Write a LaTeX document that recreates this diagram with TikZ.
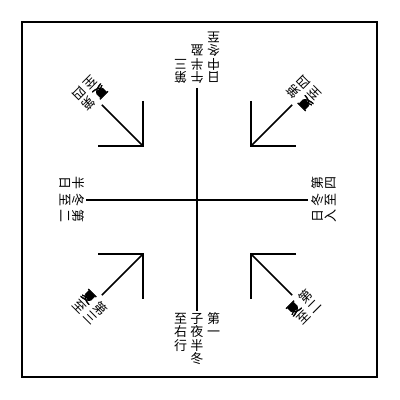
\documentclass[tikz,border=0pt]{standalone}
\usepackage{fontspec}
\newfontfamily\cjk{Noto Sans CJK SC}
\newfontfamily\cjkheavy[FakeBold=3]{Noto Sans CJK SC}
\newcommand\vcol[1]{\parbox[t]{13pt}{\centering #1}}
\newcommand\colgap{\hspace{3.5pt}}

\begin{document}
\begin{tikzpicture}[
                    x=1pt, y=1pt,
                    rule/.style={line width=1.6pt},
                    vtext/.style={inner sep=0pt, anchor=north, font=\cjk\fontsize{13}{13.6}\selectfont}
                    ]

    \useasboundingbox[fill=white] (0,0) rectangle (400,400);
    \draw[line width=2pt] (22,23) rectangle (377,378);

    % the four words round the cross
    \node[vtext] (bottomtext) at (197,88) {\vcol{至\\右\\行}\colgap\vcol{子\\夜\\半\\冬}\colgap\vcol{第\\一}};
    \node[vtext, rotate=180] (toptext) at (197,316) {\vcol{日\\中\\冬\\至}\colgap\vcol{午\\半\\盈}\colgap\vcol{第\\三}};
    \node[vtext, rotate=-90] (lefttext) at (85,200) {\vcol{半\\日}\colgap\vcol{冬\\至}\colgap\vcol{第\\二}};
    \node[vtext, rotate=90] (righttext) at (311,200) {\vcol{日\\入}\colgap\vcol{冬\\至}\colgap\vcol{第\\四}};

    \draw[rule, shorten <=4pt, shorten >=1pt] (toptext.north) -- (bottomtext.north);
    \draw[rule, shorten <=1pt, shorten >=3pt] (lefttext.north) -- (righttext.north);

    % corners
    \coordinate (tlv) at (143,254);
    \coordinate (trv) at (251,254);
    \coordinate (blv) at (143,146);
    \coordinate (brv) at (251,146);

    \node[vtext, rotate=-135] (tltext) at (99,298) {\vcol{{\cjkheavy 夏}\\至}\colgap\vcol{第\\四}};
    \node[vtext, rotate=135] (trtext) at (295,298) {\vcol{{\cjkheavy 夏}\\至}\colgap\vcol{第\\四}};
    \node[vtext, rotate=-45] (bltext) at (99,102) {\vcol{{\cjkheavy 夏}\\至}\colgap\vcol{第\\三}};
    \node[vtext, rotate=45] (brtext) at (295,102) {\vcol{{\cjkheavy 夏}\\至}\colgap\vcol{第\\二}};

    \draw[rule] (143,299) -- (tlv) -- (98,254);
    \draw[rule] (251,299) -- (trv) -- (296,254);
    \draw[rule] (98,146) -- (blv) -- (143,101);
    \draw[rule] (296,146) -- (brv) -- (251,101);

    \draw[rule, shorten >=4pt] (tlv) -- (tltext.north);
    \draw[rule, shorten >=4pt] (trv) -- (trtext.north);
    \draw[rule, shorten >=4pt] (blv) -- (bltext.north);
    \draw[rule, shorten >=4pt] (brv) -- (brtext.north);
\end{tikzpicture}
\end{document}
